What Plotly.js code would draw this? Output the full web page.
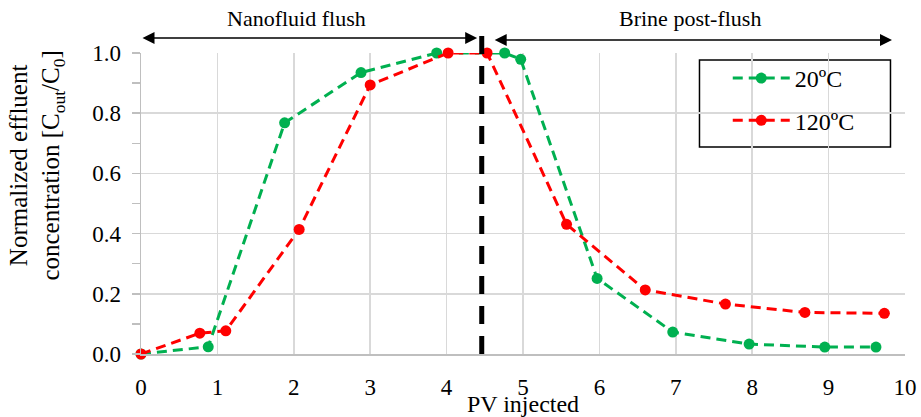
<!DOCTYPE html>
<html>
<head>
<meta charset="utf-8">
<script src="https://cdn.plot.ly/plotly-3.0.1.min.js"></script>
<style>html,body{margin:0;padding:0;background:#fff;}#chart{width:921px;height:417px;}</style>
</head>
<body>
<div id="chart"></div>
<script>
// Data
const pv20 = [0, 0.88, 1.88, 2.88, 3.87, 4.76, 4.97, 5.97, 6.96, 7.96, 8.95, 9.62];
const c20 = [0, 0.024, 0.768, 0.935, 1.0, 1.0, 0.979, 0.251, 0.073, 0.033, 0.023, 0.023];
const pv120 = [0, 0.77, 1.11, 2.07, 3.0, 4.02, 4.53, 5.57, 6.6, 7.65, 8.69, 9.73];
const c120 = [0, 0.069, 0.077, 0.414, 0.894, 1.0, 1.0, 0.431, 0.213, 0.166, 0.138, 0.135];
const seriesNames = ['20ºC', '120ºC'];
const switchPV = 4.46;
const phaseLabels = ['Nanofluid flush', 'Brine post-flush'];
const yTitle = 'Normalized effluent<br>concentration [C<sub>out</sub>/C<sub>0</sub>]';
const xTitle = 'PV injected';

const FONT = 'Liberation Serif';

const traces = [
  {x: pv20, y: c20, name: seriesNames[0], mode: 'lines+markers', legendgroup: 'a', cliponaxis: false,
   line: {color: '#00b050', dash: '10px,6px', width: 3}, marker: {color: '#00b050', size: 11}},
  {x: pv120, y: c120, name: seriesNames[1], mode: 'lines+markers', legendgroup: 'b', cliponaxis: false,
   line: {color: '#ff0000', dash: '10px,6px', width: 3}, marker: {color: '#ff0000', size: 11}}
];

const layout = {
  width: 921, height: 417,
  margin: {l: 141, r: 16, t: 53, b: 63},
  paper_bgcolor: '#fff', plot_bgcolor: '#fff',
  font: {family: FONT, size: 22, color: '#000'},
  showlegend: true,
  legend: {x: 0.768, y: 0.99, xanchor: 'left', yanchor: 'top',
    borderwidth: 0, bgcolor: 'rgba(0,0,0,0)',
    font: {family: FONT, size: 24, color: '#000'}, itemwidth: 57,
    traceorder: 'grouped', tracegroupgap: 8},
  xaxis: {range: [0, 10], dtick: 1, tick0: 0, showgrid: true, gridcolor: '#d9d9d9', gridwidth: 1.5,
    zeroline: false, showline: true, linecolor: '#bfbfbf', linewidth: 1.5, ticks: '',
    ticklabelstandoff: 12, tickfont: {family: FONT, size: 23, color: '#000'},
    title: {text: xTitle, font: {family: FONT, size: 24, color: '#000'}, standoff: 0}},
  yaxis: {range: [0, 1], dtick: 0.2, tick0: 0, tickformat: '.1f', showgrid: true, gridcolor: '#d9d9d9', gridwidth: 1.5,
    zeroline: false, showline: true, linecolor: '#bfbfbf', linewidth: 1.5,
    ticks: 'outside', ticklen: 8, tickcolor: '#bfbfbf', tickwidth: 1.5,
    minor: {dtick: 0.1, ticks: 'outside', ticklen: 8, tickcolor: '#bfbfbf', tickwidth: 1.5, showgrid: false},
    ticklabelstandoff: 6, tickfont: {family: FONT, size: 23, color: '#000'},
    title: {text: ''}},
  shapes: [
    {type: 'line', xref: 'x', yref: 'paper', x0: switchPV, x1: switchPV, y0: 0, y1: 1.083,
     line: {color: '#000', width: 5, dash: '18px,12px'}},
    {type: 'rect', xref: 'paper', yref: 'paper', x0: 0.731, x1: 0.981, y0: 0.688, y1: 0.977,
     layer: 'between', fillcolor: '#fff', line: {color: '#000', width: 1.5}}
  ],
  annotations: [
    {xref: 'x', yref: 'paper', axref: 'x', ayref: 'paper', x: 4.40, y: 1.05, ax: 0.0, ay: 1.05,
     showarrow: true, arrowside: 'end+start', arrowhead: 2, arrowsize: 1.6, arrowwidth: 1.5, arrowcolor: '#000', text: ''},
    {xref: 'x', yref: 'paper', axref: 'x', ayref: 'paper', x: 9.83, y: 1.043, ax: 4.61, ay: 1.043,
     showarrow: true, arrowside: 'end+start', arrowhead: 2, arrowsize: 1.6, arrowwidth: 1.5, arrowcolor: '#000', text: ''},
    {xref: 'x', yref: 'paper', x: 2.03, y: 1.113, yanchor: 'middle', text: phaseLabels[0], showarrow: false, font: {family: FONT, size: 22, color: '#000'}},
    {xref: 'x', yref: 'paper', x: 7.18, y: 1.113, yanchor: 'middle', text: phaseLabels[1], showarrow: false, font: {family: FONT, size: 22, color: '#000'}},
    {xref: 'paper', yref: 'paper', x: -0.1365, y: 0.625, xanchor: 'center', yanchor: 'middle', textangle: -90,
     text: yTitle, showarrow: false, font: {family: FONT, size: 25, color: '#000'}}
  ]
};

Plotly.newPlot('chart', traces, layout, {displayModeBar: false, staticPlot: true});
</script>
</body>
</html>
